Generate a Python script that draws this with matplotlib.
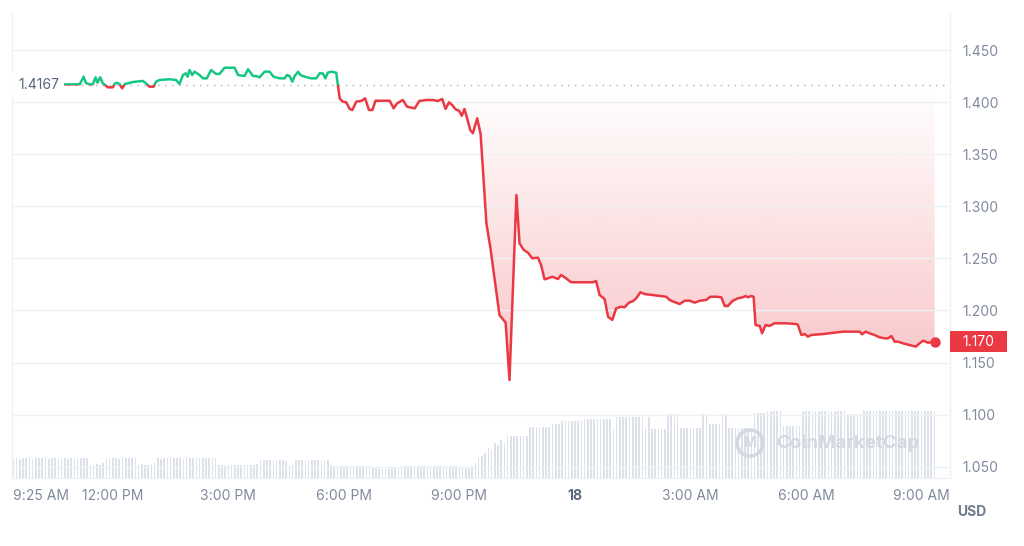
import numpy as np
import matplotlib
matplotlib.use('Agg')
import matplotlib.pyplot as plt
from matplotlib.patches import Rectangle, Circle
from matplotlib.path import Path
from matplotlib.colors import to_rgb
from matplotlib.transforms import blended_transform_factory, IdentityTransform

plt.rcParams['font.family'] = ['Inter', 'DejaVu Sans']

# ---------------- data ----------------
# price: time in hours since 00:00 of the 17th, value in USD
price_hours = [9.42, 10.91, 11.14, 11.24, 11.30, 11.40, 11.48, 11.55, 11.60, 11.67, 11.74, 11.81, 11.87, 12.00,
               12.04, 12.10, 12.17, 12.24, 12.31, 12.39, 12.52, 12.78, 12.86, 12.95, 13.06, 13.12, 13.21, 13.47,
               13.64, 13.73, 13.82, 13.89, 13.94, 13.99, 14.06, 14.12, 14.25, 14.34, 14.44, 14.55, 14.68, 14.77,
               14.90, 15.16, 15.25, 15.42, 15.51, 15.64, 15.72, 15.81, 15.94, 16.07, 16.17, 16.33, 16.46, 16.52,
               16.59, 16.66, 16.72, 16.81, 16.87, 16.98, 17.15, 17.28, 17.37, 17.45, 17.52, 17.58, 17.67, 17.80,
               17.85, 17.89, 17.97, 18.06, 18.15, 18.22, 18.32, 18.45, 18.55, 18.65, 18.74, 18.82, 19.19, 19.29,
               19.38, 19.53, 19.64, 19.84, 19.96, 20.14, 20.31, 20.44, 20.55, 20.64, 20.73, 20.81, 20.90, 20.99,
               21.06, 21.13, 21.20, 21.28, 21.35, 21.46, 21.55, 21.70, 21.80, 22.04, 22.20, 22.30, 22.48, 22.56,
               22.67, 22.78, 22.89, 23.04, 23.12, 23.21, 23.30, 23.41, 23.56, 23.64, 23.77, 23.90, 24.47, 24.55,
               24.64, 24.77, 24.86, 24.97, 25.07, 25.20, 25.29, 25.40, 25.51, 25.59, 25.70, 25.81, 26.37, 26.46,
               26.56, 26.63, 26.72, 26.85, 26.98, 27.11, 27.24, 27.41, 27.51, 27.67, 27.80, 27.89, 27.97, 28.09,
               28.23, 28.36, 28.43, 28.49, 28.58, 28.64, 28.69, 28.80, 28.86, 28.95, 29.05, 29.18, 29.49, 29.75,
               29.79, 29.88, 29.97, 30.05, 30.14, 30.44, 30.96, 31.39, 31.46, 31.55, 31.65, 31.78, 31.91, 32.04,
               32.13, 32.22, 32.30, 32.39, 32.52, 32.69, 32.85, 32.95, 33.04, 33.17, 33.34]
price_values = [1.4167, 1.4171, 1.4171, 1.4244, 1.4183, 1.4171, 1.4171, 1.4238, 1.4186, 1.4238, 1.4180, 1.4161,
                1.4142, 1.4142, 1.4174, 1.4186, 1.4174, 1.4132, 1.4174, 1.4180, 1.4193, 1.4203, 1.4180, 1.4148,
                1.4148, 1.4196, 1.4212, 1.4219, 1.4212, 1.4174, 1.4260, 1.4276, 1.4244, 1.4308, 1.4260, 1.4292,
                1.4260, 1.4228, 1.4228, 1.4308, 1.4270, 1.4270, 1.4330, 1.4330, 1.4260, 1.4250, 1.4315, 1.4250,
                1.4250, 1.4238, 1.4292, 1.4292, 1.4244, 1.4228, 1.4228, 1.4260, 1.4250, 1.4196, 1.4250, 1.4292,
                1.4260, 1.4244, 1.4228, 1.4228, 1.4276, 1.4276, 1.4228, 1.4282, 1.4292, 1.4282, 1.4148, 1.4036,
                1.4004, 1.3998, 1.3934, 1.3924, 1.4004, 1.4011, 1.4036, 1.3924, 1.3924, 1.4013, 1.4013, 1.3940,
                1.3988, 1.4020, 1.3956, 1.3940, 1.4011, 1.4020, 1.4020, 1.4011, 1.4030, 1.3934, 1.3998, 1.3972,
                1.3931, 1.3917, 1.3869, 1.3934, 1.3844, 1.3732, 1.3701, 1.3844, 1.3694, 1.2837, 1.2612, 1.1957,
                1.1883, 1.1333, 1.3108, 1.2645, 1.2581, 1.2555, 1.2501, 1.2507, 1.2437, 1.2299, 1.2309, 1.2324,
                1.2302, 1.2341, 1.2309, 1.2271, 1.2271, 1.2283, 1.2149, 1.2110, 1.1940, 1.1909, 1.2021, 1.2036,
                1.2031, 1.2075, 1.2091, 1.2117, 1.2175, 1.2158, 1.2132, 1.2101, 1.2084, 1.2075, 1.2062, 1.2094,
                1.2094, 1.2075, 1.2094, 1.2101, 1.2132, 1.2132, 1.2127, 1.2043, 1.2043, 1.2091, 1.2117, 1.2127,
                1.2139, 1.2127, 1.2139, 1.2132, 1.1861, 1.1851, 1.1781, 1.1861, 1.1851, 1.1877, 1.1877, 1.1870,
                1.1861, 1.1765, 1.1774, 1.1749, 1.1765, 1.1774, 1.1797, 1.1797, 1.1772, 1.1797, 1.1781, 1.1765,
                1.1743, 1.1733, 1.1733, 1.1755, 1.1701, 1.1701, 1.1685, 1.1669, 1.1653, 1.1685, 1.1710, 1.1691,
                1.1700]
open_price = 1.4167
last_price = 1.170

# volume bars every 5 minutes starting 9:25 AM (relative heights)
volume_start_hour = 9 + 25 / 60
volume = [20, 20, 19, 20, 20, 20, 19, 20, 20, 20, 20, 19, 20, 20, 20, 20, 20, 19, 20, 20, 20, 20, 20, 20,
          13, 13, 14, 13, 15,
          20, 20, 20, 20, 19, 20, 20, 20, 20, 20,
          13, 14, 13, 13, 14, 15,
          20, 19, 20, 20, 20, 20, 20, 20, 19, 20, 20, 20, 20, 20, 20, 20, 20, 20, 20,
          13, 13, 12, 13, 13, 13, 13, 13, 13, 13, 13, 13, 14,
          18, 18, 18, 18, 18, 18, 18, 18, 17,
          12, 13,
          18, 18, 18, 18, 18, 18, 18, 18, 18, 18, 18,
          12, 12, 12, 12, 11, 12, 12, 12, 12, 12, 12, 12, 12,
          10, 10, 9, 9, 9, 9, 10, 10, 10, 10,
          12, 12, 12, 12, 12, 12, 12, 12, 12, 12, 12, 12, 12, 12, 12, 12, 12,
          10, 10, 11, 10, 12,
          15, 20, 22,
          25, 30, 28, 35, 33, 38,
          35, 42, 42, 42, 42, 42, 42, 42,
          51, 51, 51, 51, 51, 51, 51,
          54, 54, 54,
          57, 57, 57, 57, 57, 57, 57,
          59, 59, 59, 59, 59, 59, 59, 59, 59,
          48,
          61, 61, 61, 61, 61, 61, 61, 61, 61,
          50, 61,
          49, 49, 49, 49, 49,
          64, 64, 64, 64,
          50, 50, 50, 50, 50, 50, 50,
          64, 64,
          54, 54, 54, 54,
          64, 64,
          50, 50, 50, 50, 50, 50, 50, 50,
          65, 65, 65, 65,
          67, 67, 67, 67, 67,
          52, 52, 52, 52, 52, 52,
          67, 67, 67, 67, 67, 67, 67, 67, 67, 67, 67, 67, 67, 67, 64, 64, 64, 64, 64, 67, 67,
          67, 67, 67, 67, 67, 67, 67, 67, 67, 67, 67, 67, 67, 67, 67, 67, 67, 67, 67, 67, 67]

y_ticks = [1.05, 1.10, 1.15, 1.20, 1.25, 1.30, 1.35, 1.40, 1.45]
x_ticks = [9 + 25 / 60, 12, 15, 18, 21, 24, 27, 30, 33]
x_labels = ['9:25 AM', '12:00 PM', '3:00 PM', '6:00 PM', '9:00 PM', '18', '3:00 AM', '6:00 AM', '9:00 AM']

assert len(price_hours) == len(price_values)
assert len(volume) == 288

# ---------------- style ----------------
GREEN = '#16c784'
RED = '#ea3943'
GRID = '#eff2f5'
TXT = '#808a9d'

W, H = 1024, 546
fig = plt.figure(figsize=(W / 100, H / 100), dpi=100)
fig.patch.set_facecolor('white')

ax_l, ax_r, ax_t, ax_b = 12, 950, 14, 478
ax = fig.add_axes([ax_l / W, 1 - ax_b / H, (ax_r - ax_l) / W, (ax_b - ax_t) / H])
ax2 = ax.twinx()

px = np.array(price_hours)
py = np.array(price_values)

xlim = (9.38, 33.74)
ylim = (1.03925, 1.48455)

# volume bars
vol_t = volume_start_hour + np.arange(len(volume)) / 12.0
ax2.bar(vol_t, volume, width=0.042, color='#dde1e9', linewidth=0, align='center')
ax2.set_ylim(0, ax_b - ax_t)
ax2.set_yticks([])
for s in ax2.spines.values():
    s.set_visible(False)

ax.set_zorder(2)
ax2.set_zorder(1)
ax.patch.set_visible(False)

# gradient fill below the opening price
poly = ax.fill_between(px, py, open_price, where=py < open_price, interpolate=True,
                       facecolor='none', edgecolor='none')
clip = Path.make_compound_path(*poly.get_paths())
n = 256
grad = np.zeros((n, 1, 4))
grad[..., :3] = to_rgb(RED)
grad[:, 0, 3] = np.linspace(0.30, 0.0, n)
img = ax.imshow(grad, extent=[px[0], px[-1], 1.13, open_price], origin='lower',
                aspect='auto', zorder=1, interpolation='bilinear')
img.set_clip_path(clip, ax.transData)

# opening price dotted line
ax.axhline(open_price, color='#a6b0c3', lw=1.0, ls=(0, (1, 4)), zorder=2)

# price line, green above the open, red below
ln_g, = ax.plot(px, py, color=GREEN, lw=1.8, zorder=4, solid_joinstyle='round', solid_capstyle='round')
ln_r, = ax.plot(px, py, color=RED, lw=1.8, zorder=4, solid_joinstyle='round', solid_capstyle='round')
clip_g = Rectangle((xlim[0], open_price), xlim[1] - xlim[0], 1.0, transform=ax.transData)
clip_r = Rectangle((xlim[0], open_price - 1.0), xlim[1] - xlim[0], 1.0, transform=ax.transData)
ln_g.set_clip_path(clip_g)
ln_r.set_clip_path(clip_r)

# end point
ax.plot([px[-1]], [py[-1]], 'o', color=RED, ms=7.5, zorder=5, mec='none')

ax.set_xlim(*xlim)
ax.set_ylim(*ylim)

# grid / axes styling
ax.set_yticks(y_ticks)
ax.set_yticklabels([f'{v:.3f}' for v in y_ticks])
ax.yaxis.tick_right()
ax.grid(axis='y', color=GRID, lw=1.0)
ax.tick_params(axis='y', length=0, pad=9, labelcolor=TXT, labelsize=10)
ax.set_xticks(x_ticks)
ax.set_xticklabels(x_labels)
ax.tick_params(axis='x', length=0, pad=8, labelcolor=TXT, labelsize=10)
xl = ax.get_xticklabels()
xl[0].set_ha('left')
xl[5].set_fontweight('bold')
xl[5].set_color('#58667e')
for k in ['top']:
    ax.spines[k].set_visible(False)
for k in ['left', 'right', 'bottom']:
    ax.spines[k].set_color(GRID)
    ax.spines[k].set_linewidth(1.0)

# opening price label
ax.text(ax_l + 6, 0, '1.4167', transform=blended_transform_factory(IdentityTransform(), ax.transData),
        fontsize=10, color='#58667e', ha='left', va='center', zorder=6,
        bbox=dict(boxstyle='square,pad=0.4', facecolor='white', edgecolor='none'))
# move label to open_price level (y in data)
ax.texts[-1].set_position((ax_l + 6, open_price))

# last price tag
tr = blended_transform_factory(ax.transAxes, ax.transData)
ax_w = ax_r - ax_l
tag_h = 21 / 1042
ax.add_patch(Rectangle((1.0, last_price - tag_h / 2), 57 / ax_w, tag_h, transform=tr,
                       facecolor=RED, edgecolor='none', clip_on=False, zorder=6))
ax.text(1.0 + 28.5 / ax_w, last_price, f'{last_price:.3f}', transform=tr, color='white',
        fontsize=10, ha='center', va='center', zorder=7, clip_on=False)

# currency label
fig.text(957 / W, 1 - 512 / H, 'USD', ha='left', va='center', fontsize=10,
         fontweight='bold', color='#6f7a8f')

# watermark
wm_col = '#d3d8e2'
fig.add_artist(Circle((750, H - 443), 13, transform=IdentityTransform(), fill=False,
                      lw=2.6, ec=wm_col, zorder=3))
fig.text(750 / W, 1 - 443 / H, 'M', ha='center', va='center', fontsize=10, fontweight='bold',
         color=wm_col, zorder=3)
fig.text(776 / W, 1 - 443 / H, 'CoinMarketCap', ha='left', va='center', fontsize=13.5,
         fontweight='bold', color=wm_col, zorder=3)

fig.savefig('out.png', dpi=100, facecolor='white')
